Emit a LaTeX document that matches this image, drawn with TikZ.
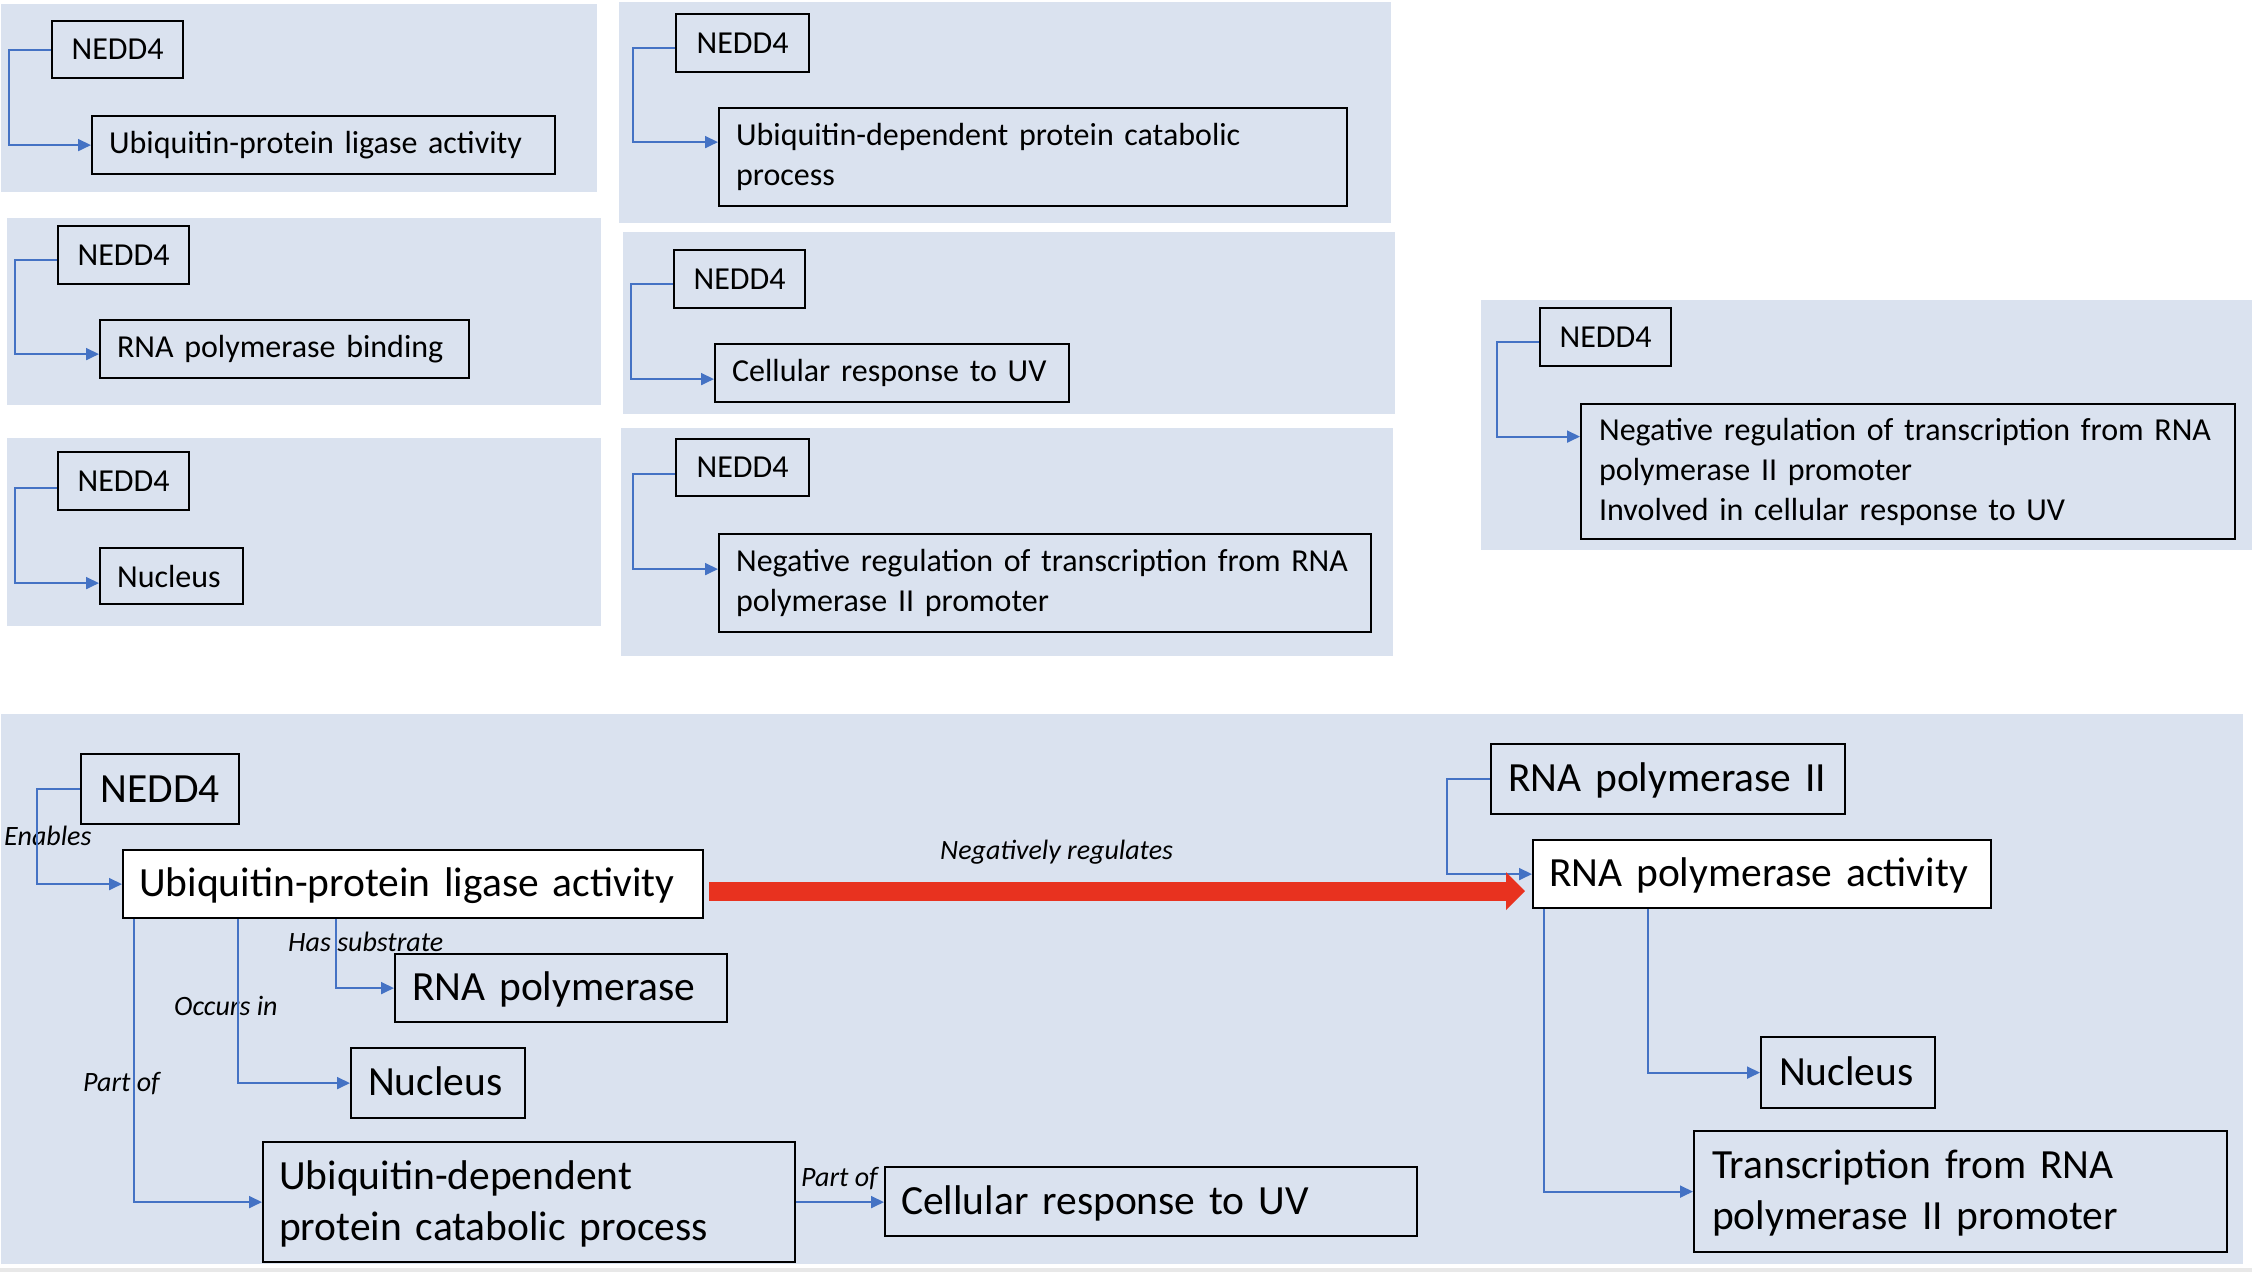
\documentclass[tikz,border=0pt]{standalone}
\usepackage{fontspec}
\setmainfont{Carlito}
\usetikzlibrary{arrows.meta,calc}
\definecolor{panel}{HTML}{DAE2EF}
\definecolor{conn}{HTML}{4472C4}
\definecolor{negred}{HTML}{E8321F}
\newcommand\smallfnt{\fontsize{32}{40}\selectfont}
\newcommand\bigfnt{\fontsize{41.5}{51}\selectfont}
\newcommand\lblfnt{\fontsize{28}{32}\selectfont\itshape}
\begin{document}
\begin{tikzpicture}[x=1pt,y=-1pt,
  sb/.style={draw=black, line width=2.2pt, anchor=north west, inner ysep=0pt, inner xsep=17pt, align=left, font=\smallfnt},
  sn/.style={draw=black, line width=2.2pt, anchor=north west, inner sep=0pt, align=center, font=\smallfnt},
  bb/.style={draw=black, line width=2.2pt, anchor=north west, inner ysep=0pt, inner xsep=17pt, align=left, font=\bigfnt,
    execute at begin node={\rule{0pt}{37pt}}, execute at end node={\rule[-12pt]{0pt}{0pt}}},
  bn/.style={draw=black, line width=2.2pt, anchor=north west, inner sep=0pt, align=center, font=\bigfnt},
  lbl/.style={anchor=west, inner sep=0pt, font=\lblfnt},
  cn/.style={draw=conn, line width=1.8pt, -{Triangle[length=13pt,width=12pt]}},
  redarr/.style={draw=negred, line width=19pt, -{Triangle[length=19pt,width=37pt]}}
]
\useasboundingbox (0,0) rectangle (2252,1272);
\fill[white] (0,0) rectangle (2252,1272);

% ---------- panels ----------
\fill[panel] (1,4) rectangle (597,192);
\fill[panel] (7,218) rectangle (601,405);
\fill[panel] (7,438) rectangle (601,626);
\fill[panel] (619,2) rectangle (1391,223);
\fill[panel] (623,232) rectangle (1395,414);
\fill[panel] (621,428) rectangle (1393,656);
\fill[panel] (1481,300) rectangle (2252,550);
\fill[panel] (1,714) rectangle (2243,1264);
\fill[gray!18] (0,1268) rectangle (2252,1272);

% panel A
\node[sn, minimum width=131pt, minimum height=57pt] (nA) at (51,20) {NEDD4};
\node[sb, minimum height=58pt, text width=429pt] (bA) at (91,115) {Ubiquitin-protein ligase activity};
% panel B
\node[sn, minimum width=131pt, minimum height=58pt] (nB) at (57,225) {NEDD4};
\node[sb, minimum height=58pt, text width=335pt] (bB) at (99,319) {\mbox{RNA polymerase binding}};
% panel C
\node[sn, minimum width=131pt, minimum height=58pt] (nC) at (57,451) {NEDD4};
\node[sb, minimum height=56pt, text width=109pt] (bC) at (99,547) {Nucleus};
% panel D
\node[sn, minimum width=133pt, minimum height=58pt] (nD) at (675,13) {NEDD4};
\node[sb, minimum height=98pt, text width=594pt] (bD) at (718,107) {\mbox{Ubiquitin-dependent protein catabolic}\\process};
% panel E
\node[sn, minimum width=131pt, minimum height=58pt] (nE) at (673,249) {NEDD4};
\node[sb, minimum height=58pt, text width=320pt] (bE) at (714,343) {\mbox{Cellular response to UV}};
% panel F
\node[sn, minimum width=133pt, minimum height=57pt] (nF) at (675,438) {NEDD4};
\node[sb, minimum height=98pt, text width=618pt] (bF) at (718,533) {\mbox{Negative regulation of transcription from RNA}\\polymerase II promoter};
% panel G
\node[sn, minimum width=131pt, minimum height=58pt] (nG) at (1539,307) {NEDD4};
\node[sb, inner xsep=18pt, minimum height=135pt, text width=618pt] (bG) at (1580,403) {\mbox{Negative regulation of transcription from RNA}\\polymerase II promoter\\Involved in cellular response to UV};

% small panel connectors
\draw[cn] (nA.west) -- ++(-42,0) |- (bA.west);
\draw[cn] ([yshift=-5pt]nB.west) -- ++(-42,0) |- ([yshift=-5pt]bB.west);
\draw[cn] ([yshift=-7pt]nC.west) -- ++(-42,0) |- ([yshift=-7pt]bC.west);
\draw[cn] ([yshift=-5pt]nD.west) -- ++(-42,0) |- ([yshift=15pt]bD.west);
\draw[cn] ([yshift=-5pt]nE.west) -- ++(-42,0) |- ([yshift=-6pt]bE.west);
\draw[cn] ([yshift=-6pt]nF.west) -- ++(-42,0) |- ([yshift=14pt]bF.west);
\draw[cn] ([yshift=-5pt]nG.west) -- ++(-42,0) |- ([yshift=35pt]bG.west);

% ---------- bottom panel ----------
\node[bn, minimum width=158pt, minimum height=70pt] (N) at (80,753) {NEDD4};
\node[bb, fill=white, inner xsep=16pt, minimum height=68pt, text width=548pt] (ULA) at (122,849) {Ubiquitin-protein ligase activity};
\node[bb, minimum height=68pt, text width=298pt] (RP) at (394,953) {RNA polymerase};
\node[bb, minimum height=70pt, text width=140pt] (NU) at (350,1047) {Nucleus};
\node[bb, inner xsep=16pt, minimum height=120pt, text width=500pt] (UD) at (262,1141) {Ubiquitin-dependent\\protein catabolic process};
\node[bb, inner xsep=16pt, minimum height=69pt, text width=500pt] (CR) at (884,1166) {Cellular response to UV};
\node[bb, minimum height=70pt, text width=320pt] (P2) at (1490,743) {\mbox{RNA polymerase II}};
\node[bb, fill=white, inner xsep=16pt, minimum height=68pt, text width=426pt] (RA) at (1532,839) {\mbox{RNA polymerase activity}};
\node[bb, inner xsep=18pt, minimum height=71pt, text width=138pt] (NU2) at (1760,1036) {Nucleus};
\node[bb, inner xsep=18pt, minimum height=121pt, text width=497pt] (TR) at (1693,1130) {Transcription from RNA\\polymerase II promoter};

% labels
\node[lbl] (lEn) at (4,836) {Enables};
\node[lbl] (lHs) at (288,942) {Has substrate};
\node[lbl] (lOc) at (174,1006) {Occurs in};
\node[lbl] (lP1) at (83,1084) {Part of};
\node[lbl] (lP2) at (801,1179) {Part of};
\node[lbl] (lNeg) at (940,852) {Negatively regulates};

% bottom connectors
\draw[cn] (N.west) -- ++(-43,0) |- (ULA.west);
\draw[cn] ([xshift=214pt]ULA.south west) |- (RP.west);
\draw[cn] ([xshift=116pt]ULA.south west) |- (NU.west);
\draw[cn] ([xshift=12pt]ULA.south west) |- (UD.west);
\draw[cn] (UD.east) -- (UD.east -| CR.west);
\draw[cn] (P2.west) -- ++(-43,0) |- (RA.west);
\draw[cn] ([xshift=116pt]RA.south west) |- (NU2.west);
\draw[cn] ([xshift=12pt]RA.south west) |- (TR.west);

% red arrow
\coordinate (rs) at ([shift={(5,7)}]ULA.east);
\draw[redarr, shorten >=7pt] (rs) -- (rs -| RA.west);
\end{tikzpicture}
\end{document}
